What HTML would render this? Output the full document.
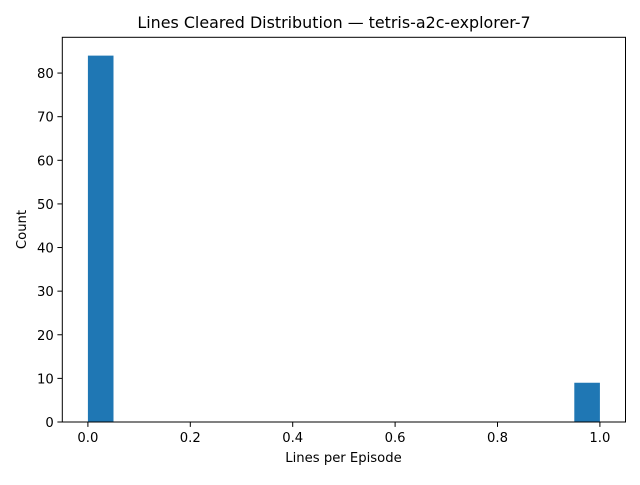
<!DOCTYPE html>
<html><head><meta charset="utf-8"><style>
body{margin:0;background:#fff;}
svg text{font-family:"DejaVu Sans","Liberation Sans",sans-serif;fill:#000;}
</style></head><body>
<svg id="chart" width="640" height="480" viewBox="0 0 640 480">
<rect width="640" height="480" fill="#fff"/>
<text x="334" y="28" font-size="15.9" text-anchor="middle">Lines Cleared Distribution — tetris-a2c-explorer-7</text>
<g id="bars"></g>
<g id="xticks"></g>
<g id="yticks"></g>
<rect x="62.3" y="37.3" width="563.2" height="384.7" fill="none" stroke="#000" stroke-width="1"/>
<text x="343.5" y="462" font-size="13.2" text-anchor="middle">Lines per Episode</text>
<text transform="translate(26,229.5) rotate(-90)" font-size="13.2" text-anchor="middle">Count</text>
</svg>
<script>
const binEdges=[0,0.05,0.1,0.15,0.2,0.25,0.3,0.35,0.4,0.45,0.5,0.55,0.6,0.65,0.7,0.75,0.8,0.85,0.9,0.95,1.0];
const counts=[84,0,0,0,0,0,0,0,0,0,0,0,0,0,0,0,0,0,0,9];
const xTicks=[0,0.2,0.4,0.6,0.8,1.0];
const xTickLabels=["0.0","0.2","0.4","0.6","0.8","1.0"];
const yTicks=[0,10,20,30,40,50,60,70,80];
const L=62.3,R=625.5,T=37.3,B=422;
const xmin=-0.05,xmax=1.05,ymax=88.2;
const X=v=>L+(v-xmin)/(xmax-xmin)*(R-L);
const Y=v=>B-v/ymax*(B-T);
const NS="http://www.w3.org/2000/svg";
const bars=document.getElementById('bars');
counts.forEach((c,i)=>{
  if(c<=0)return;
  const r=document.createElementNS(NS,'rect');
  r.setAttribute('x',X(binEdges[i]));
  r.setAttribute('width',X(binEdges[i+1])-X(binEdges[i]));
  r.setAttribute('y',Y(c));
  r.setAttribute('height',B-Y(c));
  r.setAttribute('fill','#1f77b4');
  
  
  bars.appendChild(r);
});
const xg=document.getElementById('xticks');
xTicks.forEach((v,i)=>{
  const l=document.createElementNS(NS,'line');
  l.setAttribute('x1',X(v));l.setAttribute('x2',X(v));
  l.setAttribute('y1',B);l.setAttribute('y2',B+4.9);
  l.setAttribute('stroke','#000');
  
  
  xg.appendChild(l);
  const t=document.createElementNS(NS,'text');
  t.setAttribute('x',X(v));t.setAttribute('y',B+20);
  t.setAttribute('font-size','13.2');t.setAttribute('text-anchor','middle');
  t.textContent=xTickLabels[i];
  
  
  xg.appendChild(t);
});
const yg=document.getElementById('yticks');
yTicks.forEach(v=>{
  const l=document.createElementNS(NS,'line');
  l.setAttribute('x1',L-4.9);l.setAttribute('x2',L);
  l.setAttribute('y1',Y(v));l.setAttribute('y2',Y(v));
  l.setAttribute('stroke','#000');
  
  
  yg.appendChild(l);
  const t=document.createElementNS(NS,'text');
  t.setAttribute('x',L-8.5);t.setAttribute('y',Y(v)+5);
  t.setAttribute('font-size','13.2');t.setAttribute('text-anchor','end');
  t.textContent=String(v);
  
  
  yg.appendChild(t);
});
</script>
</body></html>
